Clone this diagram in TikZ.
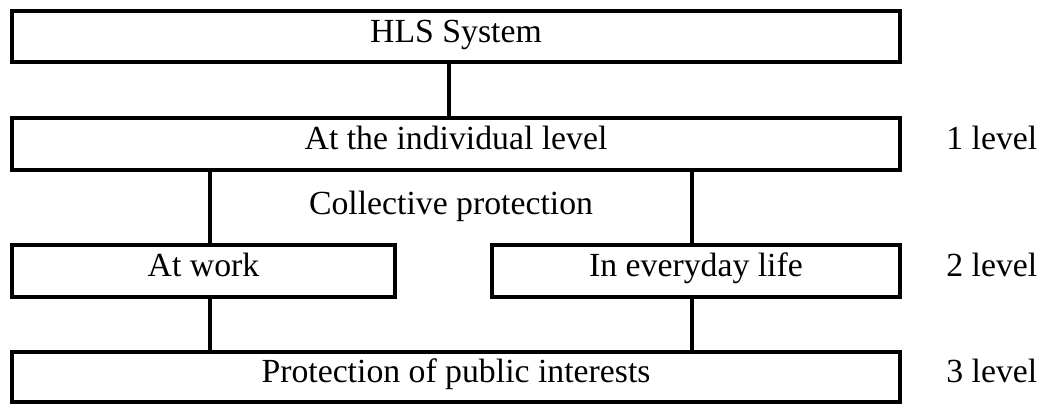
\documentclass[tikz,border=0pt]{standalone}
\usepackage{fontspec}
\setmainfont{Liberation Serif}
\usetikzlibrary{positioning}
\tikzset{
    lvlbox/.style={draw, line width=0.1cm, inner sep=0pt, minimum height=1.3cm, text height=14pt, text depth=5.5pt, font=\fontsize{24}{28}\selectfont},
    lvltext/.style={inner sep=0pt, text height=14pt, text depth=5.5pt, font=\fontsize{24}{28}\selectfont},
    link/.style={line width=0.1cm},
}
\begin{document}
\begin{tikzpicture}[x=0.025cm, y=-0.025cm]
    % Frame
    \useasboundingbox (0,0) rectangle (1040,405);
    % Boxes
    \node [lvlbox, minimum width=22.2cm, minimum height=1.275cm] (hls) at (456,36.5) {HLS System};
    \node [lvlbox, minimum width=22.2cm] (indiv) at (456,144) {At the individual level};
    \node [lvlbox, minimum width=9.575cm] (work) at (203.5,271) {At work};
    \node [lvlbox, minimum width=10.2cm] (life) at (696,271) {In everyday life};
    \node [lvlbox, minimum width=22.2cm, minimum height=1.25cm] (publ) at (456,377) {Protection of public interests};
    % Texts
    \node [inner sep=0pt, font=\fontsize{24}{28}\selectfont, anchor=base] (coll) at (451,215) {Collective protection};
    \node [lvltext, right=1.1cm of indiv] (lone) {1 level};
    \node [lvltext, right=1.1cm of life] (ltwo) {2 level};
    \node [lvltext, right=1.1cm of publ] (lthree) {3 level};
    % Connectors
    \coordinate (mx) at (449,0);
    \coordinate (lx) at (210,0);
    \coordinate (rx) at (692,0);
    \draw [link] (mx |- hls.south) -- (mx |- indiv.north);
    \draw [link] (lx |- indiv.south) -- (lx |- work.north);
    \draw [link] (rx |- indiv.south) -- (rx |- life.north);
    \draw [link] (lx |- work.south) -- (lx |- publ.north);
    \draw [link] (rx |- life.south) -- (rx |- publ.north);
\end{tikzpicture}
\end{document}
